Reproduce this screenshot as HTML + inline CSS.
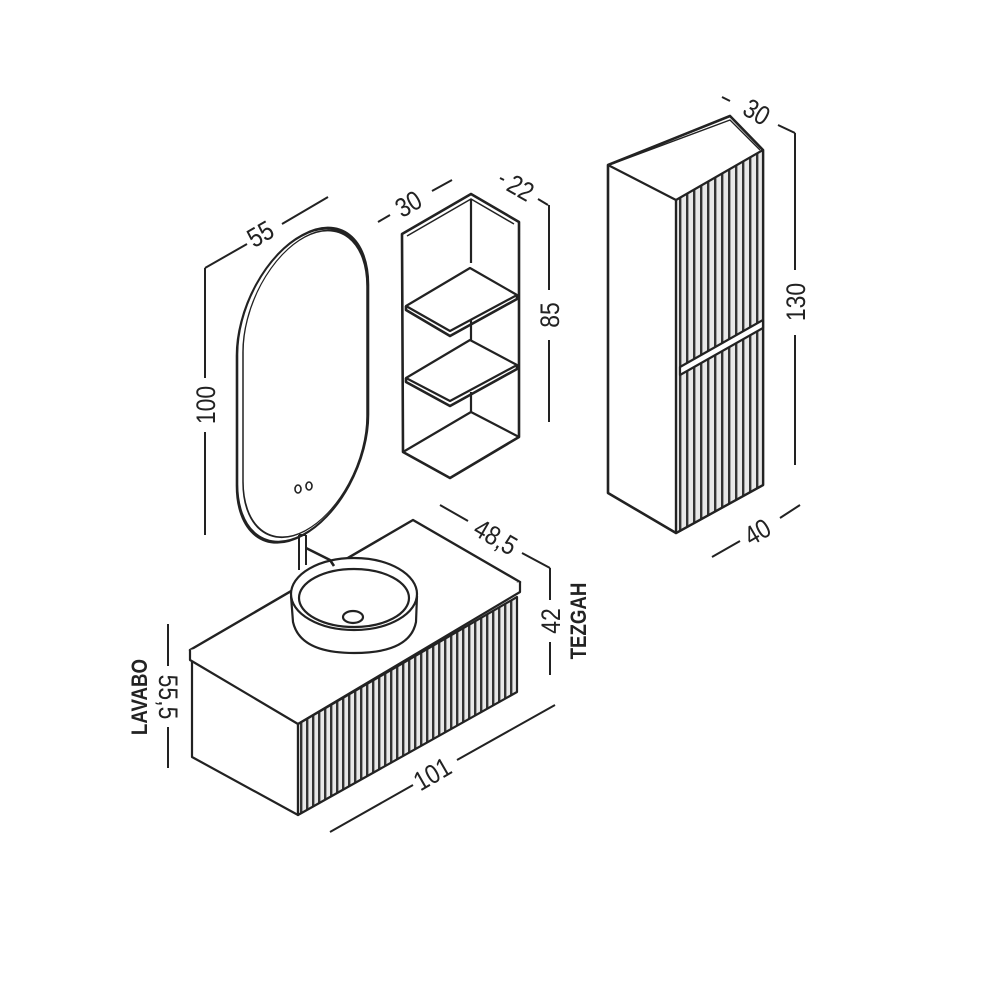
<!DOCTYPE html>
<html><head><meta charset="utf-8"><style>
html,body{margin:0;padding:0;background:#fff;}
svg{display:block}
text{font-family:"Liberation Sans",sans-serif;font-size:27px;fill:#222;}
</style></head><body>
<svg width="1000" height="1000" viewBox="0 0 1000 1000" xmlns="http://www.w3.org/2000/svg">
<defs>
<pattern id="fl" width="6" height="10" patternUnits="userSpaceOnUse">
<rect width="6" height="10" fill="#e8e8e8"/><rect x="0" width="2.4" height="10" fill="#333"/>
</pattern>
<pattern id="fl2" width="7" height="10" patternUnits="userSpaceOnUse">
<rect width="7" height="10" fill="#e8e8e8"/><rect x="0" width="2.4" height="10" fill="#333"/>
</pattern>
</defs>
<g fill="none" stroke="#222" stroke-width="2.2" stroke-linejoin="round">
<!-- Mirror -->
<g transform="translate(237,0) skewY(-28) translate(-237,0)">
<rect x="237" y="270" width="131" height="300" rx="65" ry="85" stroke-width="2.6"/>
<rect x="243" y="273" width="124" height="294" rx="62" ry="82" stroke-width="1.5"/>
</g>
<ellipse cx="298" cy="489" rx="3" ry="4" stroke-width="1.6"/>
<ellipse cx="309" cy="486" rx="3" ry="4" stroke-width="1.6"/>

<!-- Shelf unit -->
<path d="M402,234 L471,194 L519,222 L519,437 L450,478 L403,452 Z" stroke-width="2.6"/>
<path d="M407,236 L471,199 L514,224" stroke-width="1.5"/>
<line x1="471" y1="199" x2="471" y2="263"/>
<line x1="471" y1="318" x2="471" y2="340"/>
<line x1="471" y1="392" x2="471" y2="412"/>
<path d="M406,306 L470,268 L517,295 L450,331 Z" fill="#fff"/>
<path d="M406,306 L406,310 L450,336 L517,299 L517,295" stroke-width="2.6"/>
<path d="M406,378 L470,340 L517,365 L450,401 Z" fill="#fff"/>
<path d="M406,378 L406,382 L450,406 L517,369 L517,365" stroke-width="2.6"/>
<path d="M403,452 L471,412 L519,437"/>

<!-- Tall cabinet -->
<path d="M608,165 L730,116 L763,150 L763,485 L676,533 L608,493 Z" fill="#fff" stroke-width="2.6"/>
<path d="M676,200 L763,150 L763,485 L676,533 Z" fill="url(#fl2)"/>
<path d="M680,367 L763,320 L763,328 L680,375 Z" fill="#fff"/>
<path d="M608,165 L676,200 L676,533"/>
<path d="M612,164 L730,120 L760,150" stroke-width="1.4"/>

<!-- Vanity -->
<path d="M190,650 L413,520 L520,582 L298,713 Z" fill="#fff" stroke-width="2.4"/>
<path d="M190,650 L190,660 L298,724 L520,592 L520,582" fill="#fff"/>
<path d="M192,662 L192,757 L298,815 L298,724"/>
<path d="M298,724 L517,597 L517,692 L298,815 Z" fill="url(#fl)"/>
<!-- sink -->
<path d="M291,596 L293,622 Q300,653 354,653 Q410,653 416,622 L417,596" fill="#fff"/>
<ellipse cx="354" cy="594" rx="63" ry="36" fill="#fff"/>
<ellipse cx="354" cy="598" rx="55" ry="29"/>
<ellipse cx="353" cy="617" rx="10" ry="6"/>
<!-- faucet -->
<path d="M299,535 L299,570 M306,535 L306,565 M299,535 L306,535" stroke-width="2"/>
<path d="M306,548 L330,560 L334,566" stroke-width="2.6"/>

<!-- Dimension lines -->
<g stroke-width="2">
<path d="M205,268 L247,244 M282,224 L328,197"/>
<path d="M205,268 L205,378 M205,432 L205,535"/>
<path d="M378,222 L390,215 M432,191 L452,180"/>
<path d="M500,178 L504,180 M538,199 L548,205"/>
<path d="M549,205 L549,290 M549,340 L549,422"/>
<path d="M722,97 L730,101 M778,125 L795,133"/>
<path d="M795,133 L795,270 M795,335 L795,465"/>
<path d="M712,557 L740,541 M780,518 L800,505"/>
<path d="M440,505 L468,521 M522,553 L550,568"/>
<path d="M550,568 L550,600 M550,642 L550,675"/>
<path d="M330,832 L413,785 M457,760 L555,705"/>
<path d="M168,624 L168,666 M168,727 L168,768"/>
</g>
</g>
<g>
<text transform="translate(265,242) rotate(-30) scale(0.85,1)" text-anchor="middle">55</text>
<text transform="translate(215,405) rotate(-90) scale(0.85,1)" text-anchor="middle">100</text>
<text transform="translate(413,212) rotate(-30) scale(0.85,1)" text-anchor="middle">30</text>
<text transform="translate(516,196) rotate(30) scale(0.85,1)" text-anchor="middle">22</text>
<text transform="translate(559,315) rotate(-90) scale(0.85,1)" text-anchor="middle">85</text>
<text transform="translate(752,120) rotate(30) scale(0.85,1)" text-anchor="middle">30</text>
<text transform="translate(805,302) rotate(-90) scale(0.85,1)" text-anchor="middle">130</text>
<text transform="translate(762,540) rotate(-30) scale(0.85,1)" text-anchor="middle">40</text>
<text transform="translate(491,545) rotate(30) scale(0.85,1)" text-anchor="middle">48,5</text>
<text transform="translate(560,621) rotate(-90) scale(0.85,1)" text-anchor="middle">42</text>
<text transform="translate(586,621) rotate(-90) scale(0.85,1)" text-anchor="middle" style="font-size:22px;font-weight:bold">TEZGAH</text>
<text transform="translate(437,782) rotate(-30) scale(0.85,1)" text-anchor="middle">101</text>
<text transform="translate(159,697) rotate(90) scale(0.85,1)" text-anchor="middle">55,5</text>
<text transform="translate(147,697) rotate(-90) scale(0.85,1)" text-anchor="middle" style="font-size:22px;font-weight:bold">LAVABO</text>
</g>
</svg>
</body></html>
